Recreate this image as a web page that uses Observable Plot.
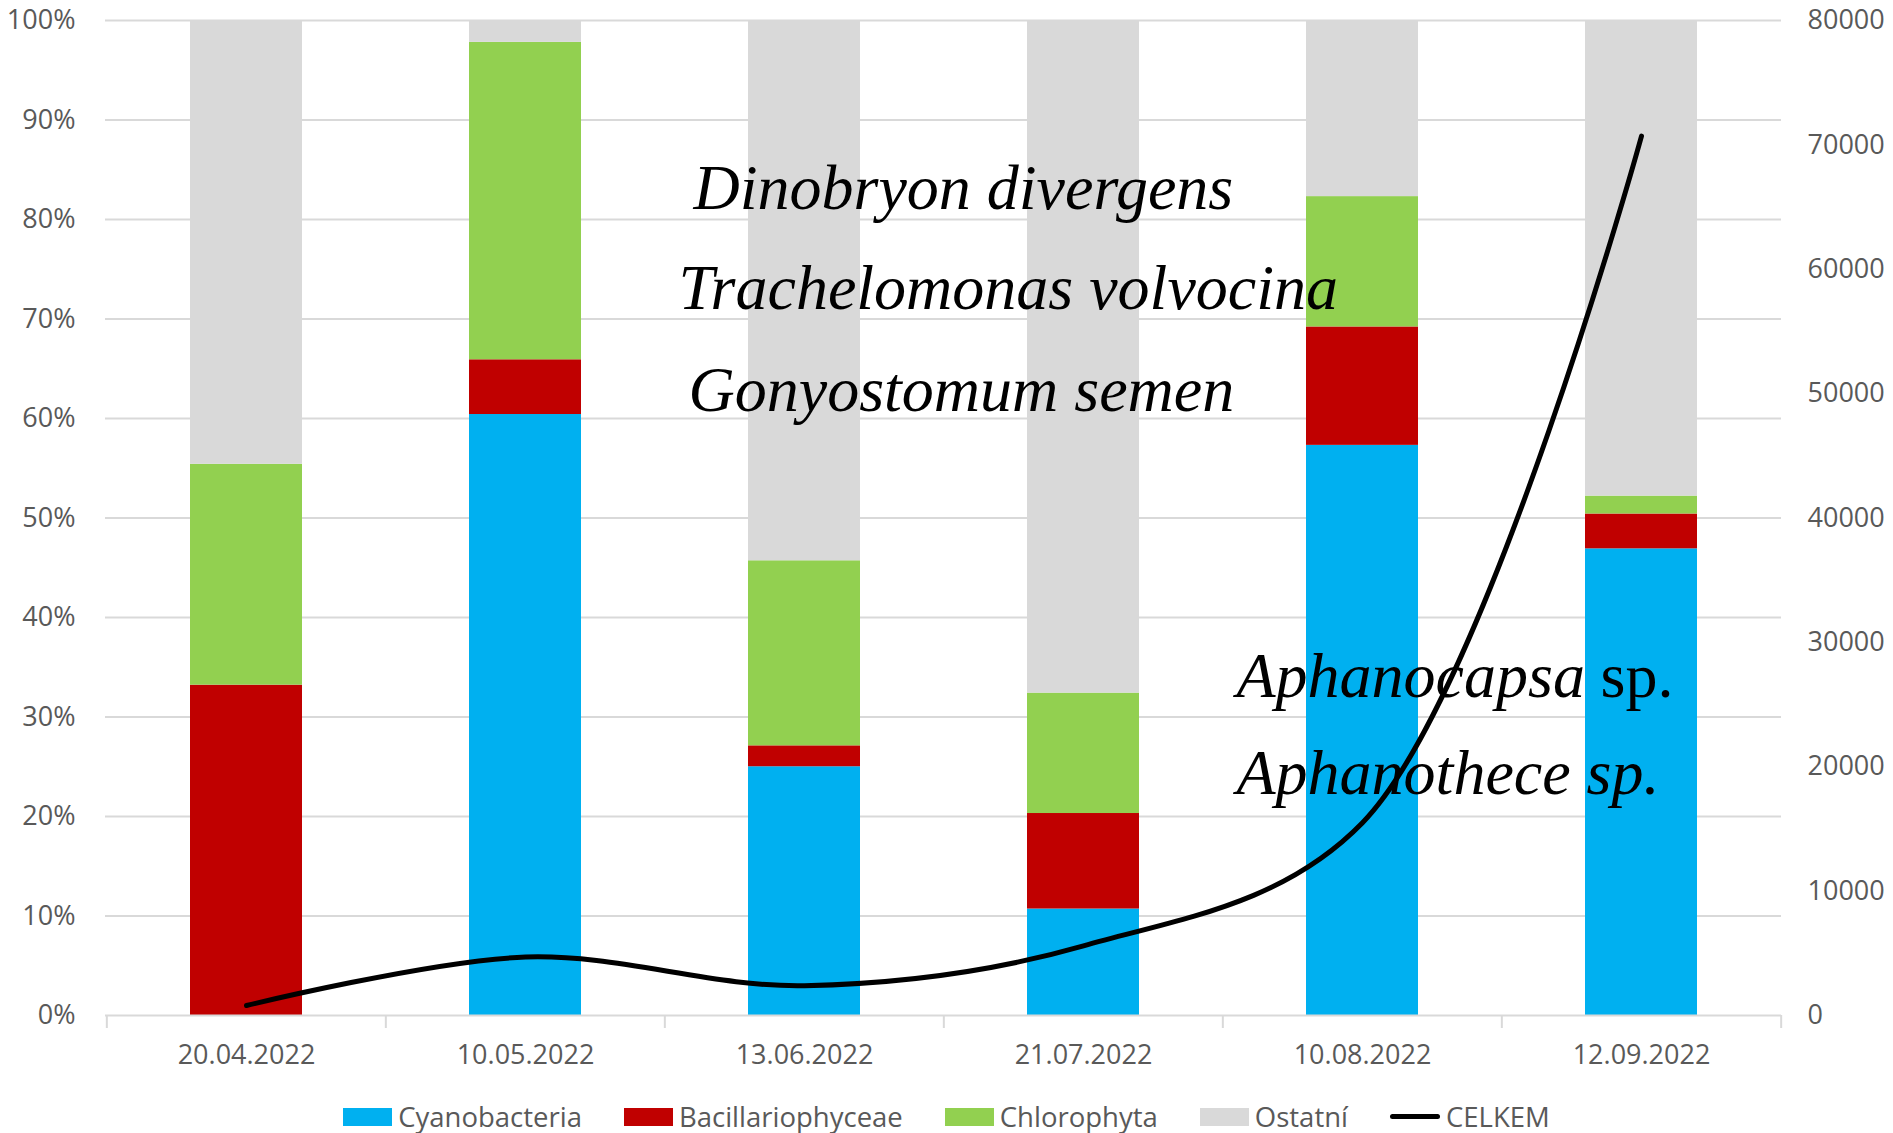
<!DOCTYPE html>
<html>
<head>
<meta charset="utf-8">
<script src="https://cdn.jsdelivr.net/npm/d3@7"></script>
<script src="https://cdn.jsdelivr.net/npm/@observablehq/plot@0.6"></script>
<style>
  html, body { margin: 0; padding: 0; background: white; }
  #wrap { width: 1893px; }
  #legend { height: 53px; box-sizing: border-box; padding-top: 20px; display: flex; justify-content: center; align-items: center;
            font-family: 'Open Sans', sans-serif; font-size: 27.5px; color: #595959; }
  .item { display: flex; align-items: center; margin: 0 21px; height: 32px; }
  .sw { display: inline-block; width: 49px; height: 18px; margin-right: 6px; }
  .ln { display: inline-block; width: 50px; height: 5px; background: black; border-radius: 3px; margin-right: 6px; }
</style>
</head>
<body>
<div id="wrap">
  <div id="chart"></div>
  <div id="legend"></div>
</div>
<script>
// ---- data ----
const dates = ["20.04.2022", "10.05.2022", "13.06.2022", "21.07.2022", "10.08.2022", "12.09.2022"];
const seriesNames = ["Cyanobacteria", "Bacillariophyceae", "Chlorophyta", "Ostatní"];
const cyanobacteria     = [0,    60.4, 25.0, 10.7, 57.3, 46.9];
const bacillariophyceae = [33.2,  5.5,  2.1,  9.6, 11.9,  3.5];
const chlorophyta       = [22.2, 31.9, 18.6, 12.1, 13.1,  1.8];
const ostatni           = [44.6,  2.2, 54.3, 67.6, 17.7, 47.8];
const celkem = [800, 4700, 2400, 5600, 15500, 70700];
const leftTicks = [0, 10, 20, 30, 40, 50, 60, 70, 80, 90, 100];
const rightTicks = [0, 10000, 20000, 30000, 40000, 50000, 60000, 70000, 80000];
const rightMax = 80000;
const colors = ["#00B0F0", "#C00000", "#92D050", "#D9D9D9"];
const annLabels = ["Dinobryon divergens", "Trachelomonas volvocina", "Gonyostomum semen", "Aphanocapsa", "sp.", "Aphanothece sp."];
const annCats   = ["13.06.2022", "13.06.2022", "13.06.2022", "10.08.2022", "10.08.2022", "10.08.2022"];
const annY      = [81.1, 71.0, 60.8, 32.0, 32.0, 22.3];
const annItalic = [true, true, true, true, false, true];

// ---- layout ----
const W = 1893, ML = 105, MR = 112;
const step = (W - ML - MR) / dates.length;
const annDx = [-111, -126, -116, -126, 238, -126];

const seriesValues = [cyanobacteria, bacillariophyceae, chlorophyta, ostatni];
const rows = seriesNames.flatMap((s, si) => dates.map((d, i) => ({date: d, series: s, value: seriesValues[si][i]})));
const lineRows = dates.map((d, i) => ({date: d, total: celkem[i]}));
const toPct = v => v / rightMax * 100;

const annMarks = annLabels.map((label, i) => Plot.text([label], {
  x: () => annCats[i], y: () => annY[i], text: d => d,
  textAnchor: "start", lineAnchor: "bottom", dx: annDx[i],
  fontFamily: "'Liberation Serif', 'Times New Roman', serif",
  fontStyle: annItalic[i] ? "italic" : "normal",
  fontSize: 64, fill: "black"
}));

const grey = "#D9D9D9";
const fs = 27;
const plot = Plot.plot({
  width: W, height: 1080,
  marginLeft: ML, marginRight: MR, marginTop: 20, marginBottom: 65,
  style: {fontFamily: "'Open Sans', sans-serif", fontSize: fs + "px", color: "#595959", background: "white"},
  x: {domain: dates, paddingInner: 0.6, paddingOuter: 0.3, axis: null},
  y: {domain: [0, 100], axis: null},
  color: {domain: seriesNames, range: colors},
  marks: [
    Plot.ruleY(leftTicks.filter(t => t > 0), {stroke: grey, strokeWidth: 2}),
    Plot.barY(rows, {x: "date", y: "value", fill: "series"}),
    Plot.ruleY([0], {stroke: grey, strokeWidth: 2}),
    Plot.ruleX(dates, {x: d => d, y1: 0, y2: 0, dx: -step / 2, insetBottom: -13, stroke: grey, strokeWidth: 2}),
    Plot.ruleX(dates.slice(-1), {x: d => d, y1: 0, y2: 0, dx: step / 2, insetBottom: -13, stroke: grey, strokeWidth: 2}),
    Plot.axisX({tickSize: 0, tickPadding: 29, fontSize: fs, color: "#595959", label: null}),
    Plot.axisY({anchor: "left", ticks: leftTicks, tickSize: 0, tickPadding: 30, fontSize: fs, color: "#595959",
                tickFormat: d => d + "%", label: null}),
    Plot.axisY({anchor: "right", ticks: rightTicks.map(toPct), tickSize: 0, tickPadding: 26, fontSize: fs, color: "#595959",
                tickFormat: d => String(Math.round(d / 100 * rightMax)), label: null}),
    ...annMarks,
    Plot.line(lineRows, {x: "date", y: d => toPct(d.total), curve: "catmull-rom", stroke: "black", strokeWidth: 5,
                         strokeLinecap: "round", strokeLinejoin: "round"})
  ]
});
document.getElementById("chart").appendChild(plot);

// ---- legend ----
const legend = document.getElementById("legend");
seriesNames.forEach((s, i) => {
  const it = document.createElement("div"); it.className = "item";
  const sw = document.createElement("span"); sw.className = "sw"; sw.style.background = colors[i];
  it.appendChild(sw); it.appendChild(document.createTextNode(s));
  legend.appendChild(it);
});
{
  const it = document.createElement("div"); it.className = "item";
  const sw = document.createElement("span"); sw.className = "ln";
  it.appendChild(sw); it.appendChild(document.createTextNode("CELKEM"));
  legend.appendChild(it);
}
</script>
</body>
</html>
